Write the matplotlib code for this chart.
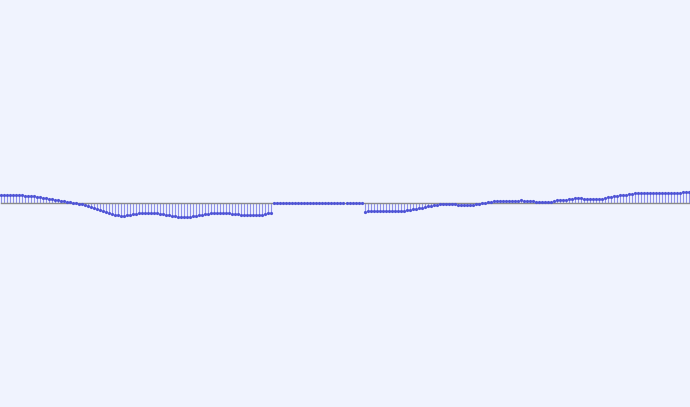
import numpy as np
import matplotlib.pyplot as plt

# values (one per stem, left to right)
seg_a = [8, 8, 8, 8, 8, 8, 8, 7.8, 7.5, 7.3,
         7, 6.8, 6.5, 6, 5.5, 5, 4.5, 4, 3.5, 3,
         2.5, 2, 1.5, 1, 0.5, 0, -0.5, -1, -1.5, -2.5,
         -3.5, -4.5, -5.5, -6.5, -7.5, -8.5, -9.5, -10.5, -11.5, -12,
         -12.5, -12.5, -12, -11.5, -11, -10.5, -10, -10, -10, -10,
         -10, -10, -10, -10.5, -11, -11.5, -12, -12.5, -13, -13.5,
         -14, -14, -14, -13.5, -13, -12.5, -12, -11.5, -11, -10.5,
         -10, -9.5, -9.5, -9.5, -10, -10, -10, -10.5, -11, -11,
         -11.5, -11.5, -12, -12, -12, -12, -12, -11.5, -11, -10,
         -9.5]
seg_flat = [0] * 30
seg_b = [-9, -8, -7.5, -7.5, -7.5, -7.5, -7.5, -7.5, -7.5,
         -7.5, -7.5, -7.5, -7.5, -7.5, -7, -6.5, -6, -5.5, -5,
         -4.5, -3.5, -3, -2.5, -2, -1.5, -1, -0.5, -0.5, -0.5,
         -0.5, -1, -1.5, -1.7, -1.7, -1.7, -1.7, -1.5, -1, -0.5,
         0, 0.5, 1, 1.5, 1.7, 1.7, 1.7, 1.7, 1.7, 1.7,
         1.7, 1.7, 2.5, 3, 2, 1.7, 1.7, 1.7, 1.5, 1,
         1, 1, 1, 1.5, 2.5, 3, 3, 3, 3.5, 4,
         4.5, 4.7, 4.7, 4.7, 4.3, 4, 4, 4, 4, 4,
         4.5, 5.5, 6.3, 6.5, 7, 7.5, 8, 8.3, 8.5, 9,
         9.5, 9.7, 9.7, 9.7, 9.7, 9.7, 9.7, 9.7, 9.7, 9.7,
         9.7, 9.7, 9.7, 9.7, 9.7, 10, 10.5, 11, 11.2, 11.5]
values = np.array(seg_a + seg_flat + seg_b) / 10.0
x = np.arange(len(values))

fig = plt.figure(figsize=(6.9, 4.07), dpi=100)
fig.patch.set_facecolor("#f0f3fe")
ax = fig.add_axes([0, 0, 1, 1])
ax.set_facecolor("#f0f3fe")

markers, stems, base = ax.stem(x, values)
plt.setp(markers, color="#4f54d6", marker="o", markersize=2.3,
         markeredgewidth=0, zorder=3)
plt.setp(stems, color="#8e91ea", linewidth=0.8)
plt.setp(base, color="#8a8a8a", linewidth=1.0)

ax.set_xlim(-0.4, len(values) - 0.6)
ax.set_ylim(-20.4, 20.3)
ax.axis("off")

fig.savefig("out.png", dpi=100, facecolor=fig.get_facecolor())
